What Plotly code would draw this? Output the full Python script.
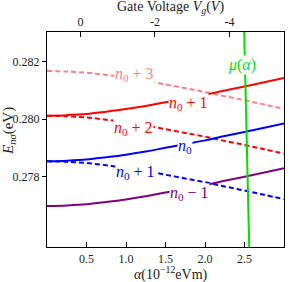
import plotly.graph_objects as go

# ---- data ----
alpha = [0, 0.25, 0.5, 0.75, 1.0, 1.25, 1.5, 1.75, 2.0, 2.25, 2.5, 2.75, 3.0]

n0p3_dn = [0.28168, 0.28166, 0.28162, 0.28154, 0.28145, 0.28134, 0.28121, 0.28108, 0.28095, 0.28080, 0.28066, 0.28051, 0.28036]
n0p1_up = [0.28012, 0.28014, 0.28018, 0.28026, 0.28035, 0.28046, 0.28059, 0.28072, 0.28085, 0.28100, 0.28114, 0.28129, 0.28144]
n0p2_dn = [0.28012, 0.28010, 0.28006, 0.27998, 0.27989, 0.27978, 0.27965, 0.27952, 0.27939, 0.27924, 0.27910, 0.27895, 0.27880]
n0_up   = [0.27853, 0.27855, 0.27859, 0.27867, 0.27876, 0.27887, 0.27900, 0.27913, 0.27926, 0.27941, 0.27955, 0.27970, 0.27985]
n0p1_dn = [0.27853, 0.27851, 0.27847, 0.27839, 0.27830, 0.27819, 0.27806, 0.27793, 0.27780, 0.27765, 0.27751, 0.27736, 0.27721]
n0m1_up = [0.27697, 0.27699, 0.27703, 0.27711, 0.27720, 0.27731, 0.27744, 0.27757, 0.27770, 0.27785, 0.27799, 0.27814, 0.27829]

mu_alpha = [2.496, 2.56]
mu_energy = [0.28304, 0.27554]

x_ticks = [0.5, 1.0, 1.5, 2.0, 2.5]
y_ticks = [0.278, 0.280, 0.282]
vg_ticks = [0, -2, -4]
vg_labels = ["0", "-2", "-4"]

PINK = "#ff8080"
RED = "#ff0000"
BLUE = "#0000ff"
PURPLE = "#800080"
GREEN = "#00e000"
SERIF = "Liberation Serif, Times New Roman, serif"
DASH = "5px,3px"

fig = go.Figure()

def add(y, color, dash):
    fig.add_trace(go.Scatter(x=alpha, y=y, mode="lines",
                             line=dict(color=color, width=2, dash=dash, shape="spline"),
                             showlegend=False, hoverinfo="skip"))

add(n0p3_dn, PINK, DASH)
add(n0p2_dn, RED, DASH)
add(n0p1_up, RED, "solid")
add(n0p1_dn, BLUE, DASH)
add(n0_up, BLUE, "solid")
add(n0m1_up, PURPLE, "solid")

fig.add_trace(go.Scatter(x=mu_alpha, y=mu_energy, mode="lines",
                         line=dict(color=GREEN, width=2),
                         showlegend=False, hoverinfo="skip"))

# invisible trace so the top (gate voltage) axis is drawn
fig.add_trace(go.Scatter(x=vg_ticks, y=[None] * len(vg_ticks), xaxis="x2", yaxis="y",
                         mode="markers", marker=dict(opacity=0),
                         showlegend=False, hoverinfo="skip"))

labels = [
    ("<i>n</i><sub>0</sub> + 3", 1.113, 0.28157, PINK),
    ("<i>n</i><sub>0</sub> + 1", 1.786, 0.28054, RED),
    ("<i>n</i><sub>0</sub> + 2", 1.10, 0.27969, RED),
    ("<i>n</i><sub>0</sub>", 1.747, 0.27905, BLUE),
    ("<i>n</i><sub>0</sub> + 1", 1.126, 0.27814, BLUE),
    ("<i>n</i><sub>0</sub> − 1", 1.81, 0.27741, PURPLE),
    ("<i>μ</i>(<i>α</i>)", 2.467, 0.28188, GREEN),
]
for txt, x, y, c in labels:
    fig.add_annotation(x=x, y=y, xref="x", yref="y", text=txt, showarrow=False,
                       xanchor="center", yanchor="middle",
                       font=dict(family=SERIF, size=16, color=c),
                       bgcolor="white", borderpad=0)

# axis titles
fig.add_annotation(x=0.523, y=1.116, xref="paper", yref="paper",
                   xanchor="center", yanchor="middle",
                   text="Gate Voltage <i>V</i><sub><i>g</i></sub>(<i>V</i>)", showarrow=False,
                   font=dict(family=SERIF, size=14, color="#222"))
fig.add_annotation(x=0.523, y=-0.1225, xref="paper", yref="paper",
                   xanchor="center", yanchor="middle",
                   text="<i>α</i>(10<sup>−12</sup>eVm)", showarrow=False,
                   font=dict(family=SERIF, size=14, color="#222"))
fig.add_annotation(x=-0.161, y=0.539, xref="paper", yref="paper", textangle=-90,
                   xanchor="center", yanchor="middle",
                   text="<i>E</i><sub><i>nσ</i></sub>(eV)", showarrow=False,
                   font=dict(family=SERIF, size=15, color="#222"))

axis_common = dict(showline=True, linecolor="black", linewidth=1.3, showgrid=False,
                   zeroline=False, tickfont=dict(family=SERIF, size=12, color="#222"),
                   tickcolor="black", tickwidth=1.3)

fig.update_layout(
    width=293, height=282,
    font=dict(family=SERIF, color="#222"),
    margin=dict(l=47, r=9, t=32, b=35),
    paper_bgcolor="white", plot_bgcolor="white",
    xaxis=dict(range=[0, 3.0], tickvals=x_ticks, tickformat=".1f",
               ticks="inside", ticklen=5, mirror=True, **axis_common),
    xaxis2=dict(range=[0.899, -5.464], overlaying="x", side="top", anchor="y",
                tickvals=vg_ticks, ticktext=vg_labels,
                ticks="inside", ticklen=5, **axis_common),
    yaxis=dict(range=[0.27554, 0.28304], tickvals=y_ticks, tickformat=".3f",
               ticks="outside", ticklen=4, mirror=True, **axis_common),
)

fig.write_html("out.html", config={"displayModeBar": False},
               post_script="document.body.style.margin='0';")
